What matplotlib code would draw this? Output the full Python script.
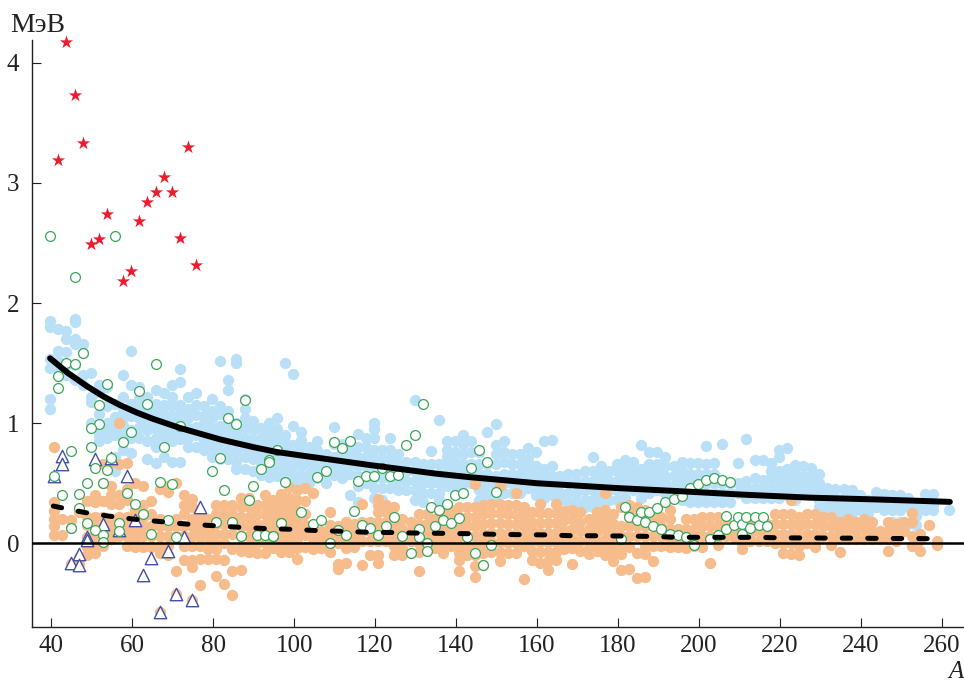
import numpy as np
import matplotlib
matplotlib.use('Agg')
import matplotlib.pyplot as plt

plt.rcParams['font.family'] = ['Liberation Serif', 'DejaVu Serif']

# blue dots, even A
blue_a = list(range(40, 260, 2)) + [262]
blue_e = [
    [1.85, 1.80, 1.53, 1.46, 1.20, 1.12], [1.78, 1.60, 1.52, 1.44], [1.77, 1.70, 1.59, 1.48, 1.40],
    [1.87, 1.84, 1.70, 1.66, 1.48, 1.36], [1.66, 1.58, 1.40, 1.32], [1.42, 1.22, 1.18, 1.00, 0.97],
    [1.32, 1.26, 1.08, 0.95, 0.90, 0.85], [1.30, 1.14, 1.00, 0.96, 0.88, 0.66, 0.62], [1.16, 1.05, 0.96, 0.90, 0.72, 0.60],
    [1.40, 1.22, 1.10, 1.04, 0.98, 0.90, 0.78], [1.60, 1.32, 1.16, 1.06, 0.94, 0.88, 0.75], [1.30, 1.20, 1.12, 1.04, 0.96, 0.88],
    [1.22, 1.14, 1.08, 1.00, 0.94, 0.85, 0.70], [1.28, 1.16, 1.10, 1.02, 0.95, 0.88, 0.80, 0.67], [1.25, 1.15, 1.08, 1.00, 0.92, 0.85, 0.72],
    [1.32, 1.22, 1.14, 1.06, 0.98, 0.92, 0.85, 0.68], [1.45, 1.34, 1.15, 1.08, 1.00, 0.92, 0.87, 0.68], [1.22, 1.12, 1.04, 0.96, 0.88, 0.80],
    [1.25, 1.15, 1.07, 0.97, 0.90, 0.80], [1.14, 1.06, 1.00, 0.92, 0.85, 0.78], [1.20, 1.10, 1.04, 0.96, 0.88, 0.80, 0.72],
    [1.52, 1.14, 1.08, 0.98, 0.90, 0.84, 0.76, 0.70], [1.36, 1.28, 1.10, 1.02, 0.94, 0.86, 0.78, 0.70], [1.53, 1.50, 1.00, 0.92, 0.84, 0.76, 0.68, 0.62],
    [1.20, 1.12, 1.04, 0.96, 0.88, 0.80, 0.72, 0.62], [1.02, 0.94, 0.86, 0.78, 0.70, 0.60], [0.96, 0.88, 0.80, 0.72, 0.64, 0.57],
    [1.00, 0.92, 0.84, 0.78, 0.70, 0.62, 0.55], [1.04, 0.95, 0.88, 0.80, 0.72, 0.64, 0.56], [1.50, 0.90, 0.84, 0.76, 0.68, 0.60, 0.52],
    [1.41, 0.98, 0.82, 0.74, 0.66, 0.58, 0.50], [0.93, 0.86, 0.80, 0.72, 0.64, 0.56, 0.48], [0.80, 0.74, 0.66, 0.58, 0.50],
    [0.85, 0.78, 0.70, 0.62, 0.54], [0.74, 0.66, 0.58, 0.50], [0.97, 0.83, 0.72, 0.64, 0.57],
    [0.83, 0.76, 0.68, 0.60, 0.54], [0.82, 0.74, 0.66, 0.58, 0.40], [0.91, 0.80, 0.72, 0.64, 0.56, 0.48, 0.34],
    [0.88, 0.80, 0.72, 0.64, 0.56, 0.50], [1.00, 0.95, 0.88, 0.78, 0.70, 0.62, 0.54, 0.46, 0.38], [0.78, 0.70, 0.62, 0.54, 0.46, 0.36],
    [0.88, 0.78, 0.70, 0.62, 0.54, 0.46], [0.74, 0.66, 0.60, 0.52, 0.44], [0.68, 0.60, 0.52, 0.44],
    [1.19, 0.68, 0.60, 0.52, 0.44, 0.36], [0.66, 0.58, 0.50, 0.42, 0.34], [0.77, 0.66, 0.58, 0.50, 0.42],
    [1.03, 0.66, 0.58, 0.50, 0.42, 0.36], [0.85, 0.78, 0.72, 0.64, 0.56, 0.48], [0.85, 0.76, 0.68, 0.60, 0.52, 0.44],
    [0.90, 0.83, 0.74, 0.66, 0.58, 0.50, 0.42], [0.85, 0.76, 0.66, 0.58, 0.50], [0.76, 0.66, 0.58, 0.52, 0.44, 0.36],
    [0.93, 0.66, 0.58, 0.50, 0.42, 0.34], [0.99, 0.82, 0.74, 0.66, 0.56, 0.48, 0.40], [0.85, 0.76, 0.68, 0.58, 0.50, 0.42],
    [0.74, 0.66, 0.58, 0.50, 0.42], [0.74, 0.66, 0.58, 0.50, 0.42], [0.79, 0.70, 0.62, 0.54, 0.46],
    [0.76, 0.64, 0.56, 0.48, 0.40], [0.85, 0.62, 0.54, 0.46, 0.38], [0.86, 0.64, 0.56, 0.48, 0.40],
    [0.56, 0.50, 0.42, 0.36], [0.58, 0.50, 0.42, 0.34], [0.58, 0.50, 0.42, 0.34],
    [0.60, 0.52, 0.44, 0.36, 0.30], [0.72, 0.60, 0.52, 0.44, 0.36, 0.30], [0.64, 0.56, 0.48, 0.40, 0.32],
    [0.60, 0.52, 0.44, 0.36], [0.66, 0.60, 0.52, 0.44, 0.36], [0.69, 0.62, 0.54, 0.46, 0.38],
    [0.68, 0.60, 0.52, 0.44], [0.82, 0.62, 0.54, 0.46, 0.38], [0.76, 0.66, 0.58, 0.50, 0.42],
    [0.76, 0.66, 0.60, 0.52, 0.44], [0.72, 0.64, 0.56, 0.50, 0.42], [0.64, 0.56, 0.48],
    [0.68, 0.60, 0.52, 0.44, 0.36], [0.67, 0.58, 0.50, 0.42, 0.34], [0.67, 0.58, 0.50, 0.42, 0.34],
    [0.81, 0.66, 0.58, 0.50, 0.42, 0.34], [0.67, 0.58, 0.50, 0.42, 0.34], [0.83, 0.50, 0.42, 0.34],
    [0.50, 0.42, 0.34], [0.67, 0.50, 0.42], [0.865, 0.52, 0.46, 0.38],
    [0.69, 0.54, 0.46, 0.38], [0.69, 0.53, 0.46, 0.38], [0.67, 0.60, 0.54, 0.46, 0.38],
    [0.78, 0.72, 0.60, 0.52, 0.44, 0.38], [0.79, 0.62, 0.54, 0.46, 0.40], [0.65, 0.58, 0.50, 0.44, 0.36],
    [0.64, 0.56, 0.50, 0.44], [0.63, 0.56, 0.48, 0.42], [0.58, 0.50, 0.44, 0.36, 0.30],
    [0.46, 0.40, 0.32, 0.26], [0.45, 0.38, 0.32, 0.25], [0.45, 0.38, 0.32, 0.25],
    [0.44, 0.38, 0.32, 0.25], [0.40, 0.34, 0.28], [0.36, 0.30, 0.25],
    [0.43, 0.36, 0.30], [0.41, 0.34, 0.28], [0.40, 0.33, 0.28, 0.18],
    [0.40, 0.33, 0.28, 0.18], [0.38, 0.30, 0.16], [0.30, 0.23, 0.15],
    [0.41, 0.33, 0.28], [0.41, 0.33, 0.28], [0.28],
]

# orange dots, odd A
orange_a = list(range(41, 261, 2))
orange_e = [
    [0.80, 0.34, 0.27, 0.20, 0.14, 0.07], [0.20, 0.07], [0.19, 0.13, -0.17],
    [0.26, -0.11, -0.17], [0.35, 0.22, 0.15, 0.05, -0.03, -0.10], [0.40, 0.34, 0.22, 0.14, 0.06, -0.03, -0.08],
    [0.66, 0.50, 0.35, 0.22, 0.14, 0.07, -0.02], [0.68, 0.48, 0.40, 0.33, 0.20, 0.12, 0.04], [1.00, 0.66, 0.40, 0.33, 0.22, 0.14, 0.06],
    [0.67, 0.45, 0.36, 0.22, 0.14, 0.06, -0.02], [0.50, 0.28, 0.20, 0.12, 0.04, -0.03], [0.48, 0.32, 0.22, 0.14, 0.06, -0.03],
    [0.35, 0.24, 0.14, 0.06, -0.03], [0.45, 0.20, 0.14, 0.06, -0.02, -0.08, -0.57], [0.48, 0.43, 0.14, 0.06, -0.02, -0.10],
    [0.50, 0.20, 0.14, 0.06, -0.23, -0.42], [0.40, 0.32, 0.24, 0.14, 0.06, -0.02, -0.14], [0.37, 0.30, 0.20, 0.14, 0.06, -0.02, -0.14, -0.20, -0.47],
    [0.25, 0.18, 0.12, 0.05, -0.02, -0.13, -0.35], [0.20, 0.12, 0.05, -0.05, -0.13], [0.32, 0.24, 0.16, 0.08, 0.00, -0.05, -0.13, -0.27],
    [0.32, 0.24, 0.16, 0.08, 0.00, -0.14, -0.34], [0.32, 0.24, 0.16, 0.08, -0.05, -0.23, -0.43], [0.38, 0.30, 0.22, 0.14, 0.06, -0.02, -0.06, -0.22],
    [0.38, 0.30, 0.22, 0.14, 0.06, -0.02, -0.07], [0.32, 0.24, 0.16, 0.08, 0.00, -0.08], [0.40, 0.32, 0.24, 0.16, 0.08, 0.00, -0.08],
    [0.36, 0.28, 0.20, 0.12, 0.04, -0.04], [0.41, 0.33, 0.25, 0.17, 0.09, 0.01, -0.07], [0.47, 0.38, 0.30, 0.22, 0.14, 0.06, -0.02, -0.07],
    [0.44, 0.36, 0.28, 0.20, 0.12, 0.04, -0.04, -0.13], [0.46, 0.35, 0.24, 0.15, 0.07, -0.03], [0.42, 0.10, 0.04, -0.03, -0.05],
    [0.10, 0.04, -0.04], [0.26, 0.15, 0.08, 0.00, -0.07], [0.14, 0.08, 0.00, -0.17, -0.21],
    [0.18, 0.12, 0.04, -0.04, -0.16], [0.16, 0.08, 0.02, -0.03], [0.33, 0.18, 0.10, 0.02, -0.18],
    [0.18, 0.10, 0.02, -0.10], [0.37, 0.32, 0.26, 0.18, 0.10, 0.02, -0.10, -0.16], [0.32, 0.26, 0.18, 0.10, 0.02],
    [0.30, 0.22, 0.14, 0.06, -0.02, -0.10], [0.20, 0.12, 0.04, -0.04, -0.10], [0.18, 0.10, 0.02, -0.08],
    [0.24, 0.16, 0.08, 0.00, -0.07, -0.23], [0.24, 0.16, 0.08, 0.00, -0.06], [0.20, 0.12, 0.04, -0.04],
    [0.24, 0.16, 0.08, 0.00, -0.08], [0.28, 0.20, 0.12, 0.04, -0.02], [0.30, 0.22, 0.14, 0.06, -0.02, -0.08, -0.14, -0.23],
    [0.30, 0.22, 0.14, 0.06, -0.02, -0.10], [0.49, 0.30, 0.22, 0.14, 0.06, -0.02, -0.10, -0.19, -0.28], [0.32, 0.24, 0.16, 0.08, 0.00, -0.08, -0.18],
    [0.33, 0.25, 0.17, 0.09, 0.01, -0.07], [0.48, 0.33, 0.25, 0.17, 0.09, 0.01, -0.07, -0.15], [0.32, 0.24, 0.16, 0.08, 0.00, -0.08],
    [0.42, 0.32, 0.24, 0.16, 0.08, 0.00, -0.08], [0.30, 0.22, 0.14, 0.06, -0.02, -0.30], [0.26, 0.18, 0.10, 0.02, -0.06, -0.14],
    [0.33, 0.25, 0.17, 0.09, 0.01, -0.07, -0.16], [0.25, 0.17, 0.09, 0.01, -0.07, -0.15, -0.22], [0.33, 0.25, 0.17, 0.09, 0.01, -0.07, -0.14],
    [0.27, 0.19, 0.11, 0.03, -0.05], [0.28, 0.20, 0.12, 0.04, -0.04, -0.17], [0.26, 0.18, 0.10, 0.02, -0.06],
    [0.20, 0.12, 0.04, -0.04, -0.09], [0.26, 0.18, 0.10, 0.02, -0.06], [0.42, 0.28, 0.20, 0.12, 0.04, -0.04, -0.10],
    [0.24, 0.16, 0.08, 0.00, -0.08, -0.15], [0.30, 0.14, 0.06, -0.03, -0.09, -0.22], [0.32, 0.24, 0.14, 0.06, -0.03, -0.21],
    [0.30, 0.22, 0.14, 0.06, -0.08, -0.29], [0.28, 0.22, 0.14, 0.06, -0.02, -0.09, -0.28], [0.22, 0.14, 0.06, -0.02, -0.15],
    [0.22, 0.14, 0.06, -0.02], [0.28, 0.20, 0.12, 0.04, -0.03], [0.12, 0.04, -0.03],
    [0.20, 0.12, 0.04, -0.04], [0.20, 0.12, 0.04, -0.02], [0.22, 0.14, 0.06, -0.03],
    [0.22, 0.14, 0.06, -0.16], [0.22, 0.14, 0.06, -0.01], [0.22, 0.14, 0.06],
    [0.13, 0.05], [0.16, 0.08, 0.00, -0.05], [0.16, 0.08, 0.02],
    [0.18, 0.10, 0.02], [0.16, 0.08, 0.02], [0.24, 0.16, 0.08, 0.00],
    [0.24, 0.16, 0.08, 0.00, -0.08], [0.36, 0.24, 0.16, 0.08, 0.00, -0.09], [0.22, 0.14, 0.06, -0.02, -0.10],
    [0.24, 0.16, 0.08, 0.00], [0.24, 0.16, 0.08, 0.00, -0.03], [0.22, 0.14, 0.06],
    [0.22, 0.14, 0.06, -0.01], [0.18, 0.10, 0.04, -0.07], [0.20, 0.12, 0.04],
    [0.18, 0.10, 0.04], [0.20, 0.12, 0.04], [0.18, 0.10, 0.04],
    [0.10, 0.04], [0.18, 0.10, 0.04, -0.06], [0.16, 0.08, 0.02],
    [0.18, 0.10], [0.25, 0.18, 0.06, -0.02], [0.08, 0.03, -0.06],
    [0.15], [0.02, -0.01],
]

# open green circles
green_a = [40, 56, 46, 48, 44, 46, 42, 42, 66, 54, 62, 64, 52, 88, 84, 86, 52, 50, 60, 58, 68, 50, 45, 55, 82, 94, 92,
           80, 51, 54, 41, 49, 53, 67, 70, 90, 83, 59, 43, 47, 89, 61, 47, 63, 69, 45, 49, 51, 57, 57, 53, 53, 65, 71,
           81, 85, 87, 91, 93, 95, 97, 72, 96, 94, 98, 102, 97, 95, 106, 108, 110, 112, 114, 116, 118, 120, 122, 124,
           126, 128, 130, 132, 115, 125, 105, 107, 111, 113, 109, 117, 119, 121, 123, 127, 131, 131, 133, 133, 129,
           134, 136, 138, 140, 142, 135, 137, 139, 141, 144, 146, 148, 150, 143, 145, 147, 149, 182, 183, 185, 187,
           186, 188, 190, 192, 194, 196, 198, 200, 202, 204, 206, 208, 189, 191, 193, 195, 197, 199, 203, 205, 207,
           207, 209, 210, 211, 212, 211, 213, 214, 215, 216, 217, 181]
green_e = [2.56, 2.56, 2.22, 1.58, 1.50, 1.49, 1.39, 1.29, 1.49, 1.33, 1.27, 1.16, 1.15, 1.19, 1.04, 0.99, 0.99, 0.96, 0.93, 0.84, 0.80, 0.80, 0.77, 0.71, 0.71, 0.69, 0.62,
           0.60, 0.63, 0.61, 0.56, 0.50, 0.50, 0.51, 0.49, 0.48, 0.44, 0.42, 0.40, 0.41, 0.36, 0.33, 0.29, 0.24, 0.19, 0.13, 0.17, 0.11, 0.17, 0.10, 0.07, 0.01, 0.08, 0.05,
           0.18, 0.18, 0.06, 0.07, 0.07, 0.06, 0.17, 0.98, 0.78, 0.68, 0.51, 0.26, 0.17, 0.06, 0.55, 0.60, 0.84, 0.79, 0.85, 0.52, 0.56, 0.56, 0.63, 0.56,
           0.57, 0.82, 0.90, 1.16, 0.27, 0.22, 0.16, 0.19, 0.11, 0.07, 0.00, 0.15, 0.13, 0.07, 0.14, 0.06, 0.12, 0.05, 0.00, -0.06, -0.08,
           0.30, 0.28, 0.33, 0.40, 0.42, 0.14, 0.19, 0.17, 0.21, 0.63, 0.78, 0.68, 0.43, 0.05, -0.08, -0.18, -0.01, 0.30, 0.22, 0.19, 0.18,
           0.26, 0.26, 0.29, 0.34, 0.37, 0.39, 0.46, 0.49, 0.53, 0.54, 0.53, 0.51, 0.14, 0.12, 0.08, 0.07, 0.05, -0.01, 0.04, 0.07, 0.12,
           0.23, 0.15, 0.22, 0.16, 0.22, 0.08, 0.13, 0.215, 0.15, 0.22, 0.14, 0.04]

# open triangles
tri_a = [43, 43, 41, 51, 55, 59, 77, 61, 53, 57, 49, 49, 73, 69, 47, 65, 45, 47, 63, 71, 75, 67]
tri_e = [0.73, 0.66, 0.56, 0.70, 0.71, 0.56, 0.30, 0.19, 0.16, 0.11, 0.05, 0.03, 0.05, -0.06, -0.09, -0.12, -0.16, -0.18, -0.26, -0.42, -0.47, -0.57]

# red stars
star_a = [44, 46, 48, 42, 50, 52, 54, 58, 60, 62, 64, 66, 68, 70, 72, 74, 76]
star_e = [4.17, 3.73, 3.33, 3.19, 2.49, 2.53, 2.74, 2.18, 2.27, 2.68, 2.84, 2.92, 3.05, 2.92, 2.54, 3.30, 2.32]

# solid curve
curve_a = [39.7, 44, 48.7, 53, 57, 61, 65.2, 71.8, 81.7, 90, 95.7, 103, 110.5, 119, 127, 135, 143.5, 152, 160, 170, 179.7, 194.5, 211, 227.5, 244, 262]
curve_e = [1.54, 1.42, 1.31, 1.22, 1.15, 1.09, 1.035, 0.96, 0.865, 0.80, 0.76, 0.725, 0.69, 0.65, 0.615, 0.58, 0.55, 0.525, 0.50, 0.48, 0.46, 0.435, 0.405, 0.38, 0.365, 0.345]

# dashed curve
dash_a = [40.5, 48.3, 54.5, 60.7, 67.3, 73.4, 80, 86.2, 92.8, 99, 105.6, 111.8, 118, 124, 130.7, 136.9, 143.5, 149.6, 155.8, 162.4, 168.6, 175.2, 182.2, 188.8, 195, 201.5, 207.7, 214.3, 220.5, 227, 233.2, 239.8, 246, 252.6, 258.4]
dash_e = [0.31, 0.256, 0.225, 0.20, 0.18, 0.16, 0.147, 0.134, 0.123, 0.117, 0.106, 0.10, 0.092, 0.09, 0.085, 0.083, 0.08, 0.075, 0.072, 0.07, 0.063, 0.063, 0.06, 0.057, 0.05, 0.05, 0.05, 0.05, 0.045, 0.045, 0.043, 0.043, 0.04, 0.04, 0.038]

x_ticks = [40, 60, 80, 100, 120, 140, 160, 180, 200, 220, 240, 260]
y_ticks = [0, 1, 2, 3, 4]


def flatten(columns_a, columns_e):
    xs = []
    ys = []
    for a, vals in zip(columns_a, columns_e):
        for v in vals:
            xs.append(a)
            ys.append(v)
    return np.array(xs) - 0.25, np.array(ys)


W, H = 964, 682
fig = plt.figure(figsize=(W / 100, H / 100), dpi=100)
ax = fig.add_axes([31.7 / W, 1 - 626.7 / H, (W - 31.7) / W, (626.7 - 40) / H])
ax.set_xlim(35.16, 265.5)
ax.set_ylim(-0.694, 4.189)

bx, by = flatten(blue_a, blue_e)
ox, oy = flatten(orange_a, orange_e)
ax.scatter(bx, by, s=66, color='#b9e0f7', linewidths=0, zorder=2)
ax.scatter(ox, oy, s=66, color='#f6bc8c', linewidths=0, zorder=3)
ax.scatter(np.array(tri_a) - 0.25, tri_e, s=80, marker='^', facecolor='white', edgecolor='#4450a8', linewidths=1.0, zorder=4)
ax.scatter(np.array(green_a) - 0.25, green_e, s=50, facecolor='white', edgecolor='#3ba55a', linewidths=0.9, zorder=5)
ax.scatter(np.array(star_a) - 0.25, star_e, s=100, marker='*', color='#ee1c2e', linewidths=0, zorder=5, clip_on=False)

ax.axhline(0, color='black', lw=1.8, zorder=6)
ax.plot(curve_a, curve_e, color='black', lw=4.3, solid_capstyle='round', zorder=7)
ax.plot(dash_a, dash_e, color='black', lw=3.6, linestyle=(0, (1.7, 3.4)), dash_capstyle='round', zorder=7)

for side in ['top', 'right']:
    ax.spines[side].set_visible(False)
for side in ['left', 'bottom']:
    ax.spines[side].set_linewidth(1.0)
    ax.spines[side].set_color('#222222')

ax.set_xticks(x_ticks)
ax.set_yticks(y_ticks)
ax.tick_params(axis='both', direction='in', length=6.5, width=0.8, color='#222222', labelcolor='#222222', labelsize=18)
ax.tick_params(axis='x', pad=6)
ax.tick_params(axis='y', pad=9)

fig.text(10 / W, 1 - 32 / H, 'МэВ', fontsize=20, color='#222222', ha='left', va='baseline')
fig.text(948 / W, 1 - 678 / H, 'А', fontsize=18, style='italic', color='#222222', ha='left', va='baseline')

fig.savefig('out.png', dpi=100)
